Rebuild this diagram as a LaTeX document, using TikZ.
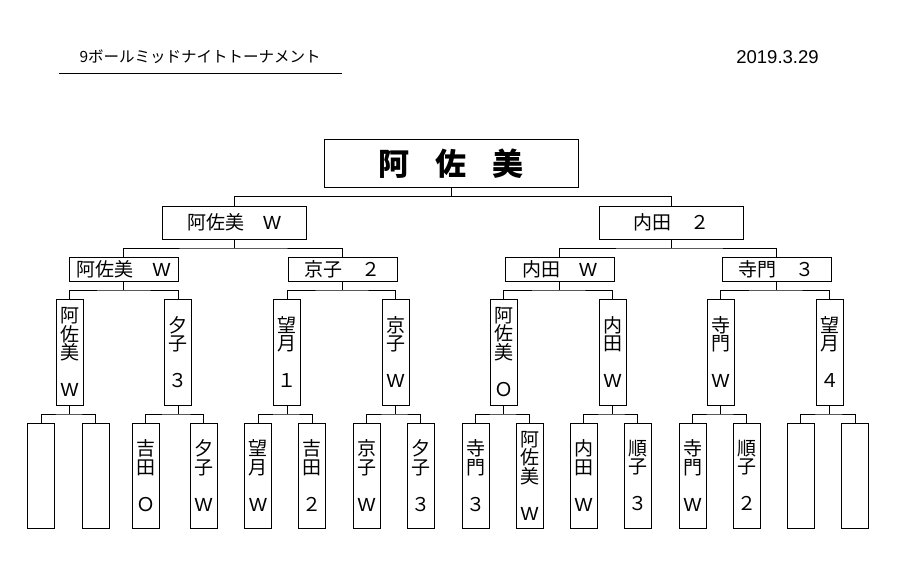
\documentclass[tikz,border=0pt]{standalone}
\usepackage{fontspec}
\setmainfont{Noto Sans CJK JP}
\newfontfamily\latinfont{Liberation Sans}
\usetikzlibrary{calc}
\newcommand\Wn{{\latinfont W}}

\begin{document}
\begin{tikzpicture}[x=1pt, y=-1pt,
    hbox/.style={draw, line width=0.8pt, inner sep=0pt, font=\fontsize{19}{18.5}\selectfont},
    vbox/.style={draw, line width=0.8pt, inner sep=0pt, minimum width=27pt, minimum height=105pt,
        align=center, font=\fontsize{19}{18.5}\selectfont},
    link/.style={line width=0.8pt}]
            \useasboundingbox (0,0) rectangle (910,584);
            %Title
            \node [anchor=west, font=\fontsize{15.5}{17}\selectfont]
            (title)at(76,57){9ボールミッドナイトトーナメント};
            \draw [line width=1pt](59,73)--(342,73);
            \node [font=\latinfont\fontsize{18.5}{20}\selectfont]
            (date)at(777.5,57){2019.3.29};
            %Winner
            \node [draw, line width=0.8pt, minimum width=254pt, minimum height=48pt, font=\fontsize{31}{34}\selectfont\bfseries]
            (win)at(451,163.5){阿\hspace{26pt}佐\hspace{26pt}美};
            %Final
            \node [hbox, minimum width=144pt, minimum height=33pt]
            (s1)at(234,222.5){阿佐美　\Wn};
            \node [hbox, minimum width=144pt, minimum height=33pt]
            (s2)at(671,222.5){内田　２};
            %Semi final
            \node [hbox, minimum width=109pt, minimum height=24pt]
            (q1)at(123.5,269){阿佐美　\Wn};
            \node [hbox, minimum width=109pt, minimum height=24pt]
            (q2)at(342.5,269){京子　２};
            \node [hbox, minimum width=109pt, minimum height=24pt]
            (q3)at(559.5,269){内田　\Wn};
            \node [hbox, minimum width=109pt, minimum height=24pt]
            (q4)at(776.5,269){寺門　３};
            %Round 2
            \node [vbox, minimum height=106pt] (r1)at(69.5,352){阿\\佐\\美\\　\\\Wn};
            \node [vbox, minimum height=106pt] (r2)at(178,352){夕\\子\\　\\３};
            \node [vbox, minimum height=106pt] (r3)at(287,352){望\\月\\　\\１};
            \node [vbox, minimum height=106pt] (r4)at(395.5,352){京\\子\\　\\\Wn};
            \node [vbox, minimum height=106pt] (r5)at(503.5,352){阿\\佐\\美\\　\\Ｏ};
            \node [vbox, minimum height=106pt] (r6)at(612.5,352){内\\田\\　\\\Wn};
            \node [vbox, minimum height=106pt] (r7)at(720.5,352){寺\\門\\　\\\Wn};
            \node [vbox, minimum height=106pt] (r8)at(829.5,352){望\\月\\　\\４};
            %Round 1
            \node [vbox] (b1)at(41,475.5){};
            \node [vbox] (b2)at(95.5,475.5){};
            \node [vbox] (b3)at(145.5,475.5){吉\\田\\　\\Ｏ};
            \node [vbox] (b4)at(203.5,475.5){夕\\子\\　\\\Wn};
            \node [vbox] (b5)at(258,475.5){望\\月\\　\\\Wn};
            \node [vbox] (b6)at(312,475.5){吉\\田\\　\\２};
            \node [vbox] (b7)at(366.5,475.5){京\\子\\　\\\Wn};
            \node [vbox] (b8)at(420.5,475.5){夕\\子\\　\\３};
            \node [vbox] (b9)at(475.5,475.5){寺\\門\\　\\３};
            \node [vbox] (b10)at(529.5,475.5){阿\\佐\\美\\　\\\Wn};
            \node [vbox] (b11)at(583.5,475.5){内\\田\\　\\\Wn};
            \node [vbox] (b12)at(637.5,475.5){順\\子\\　\\３};
            \node [vbox] (b13)at(692.5,475.5){寺\\門\\　\\\Wn};
            \node [vbox] (b14)at(746.5,475.5){順\\子\\　\\２};
            \node [vbox] (b15)at(800.5,475.5){};
            \node [vbox] (b16)at(855,475.5){};

            \foreach \p/\a/\b in {win/s1/s2, s1/q1/q2, s2/q3/q4, q1/r1/r2, q2/r3/r4, q3/r5/r6, q4/r7/r8,
                r1/b1/b2, r2/b3/b4, r3/b5/b6, r4/b7/b8, r5/b9/b10, r6/b11/b12, r7/b13/b14, r8/b15/b16}
                \draw [link](\p.south)--($(\p.south)!.5!(\p.south|-\a.north)$) coordinate (j)
                    (\a.north)|-(j)-|(\b.north);

        \end{tikzpicture}
\end{document}
